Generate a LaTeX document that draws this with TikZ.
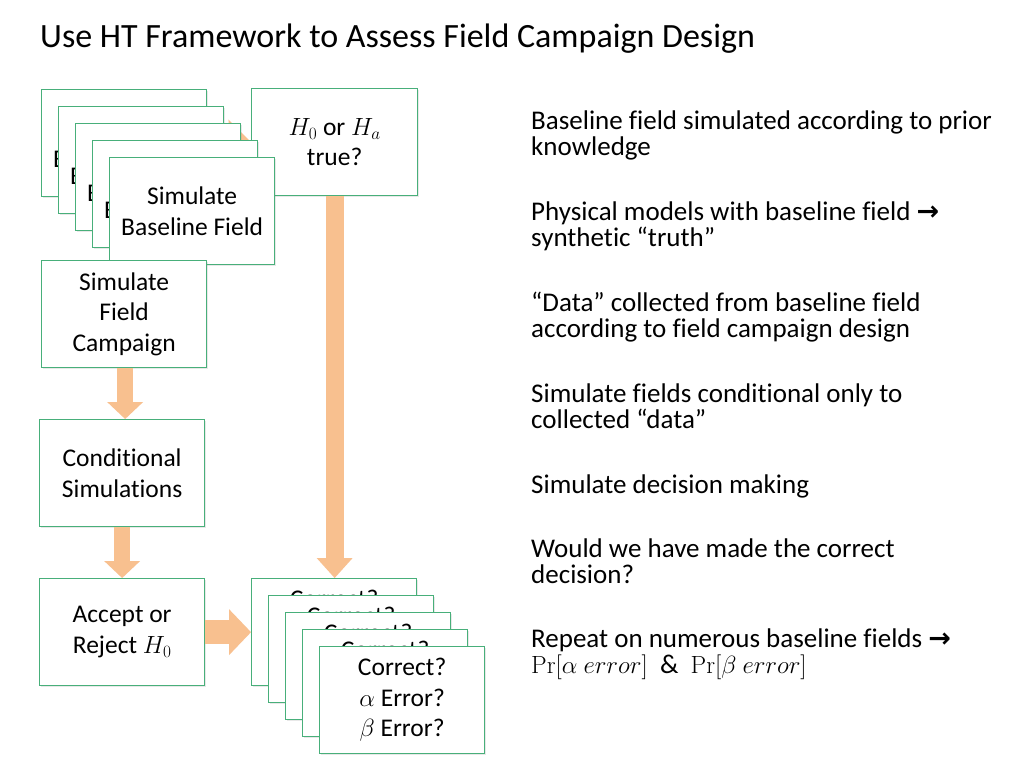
\documentclass[tikz,border=0pt]{standalone}
\usepackage[no-math]{fontspec}
\setmainfont{Carlito}[Ligatures=CommonOff]
\newfontfamily\arrowfont{DejaVu Sans}
\usetikzlibrary{arrows.meta,shadows}
\definecolor{boxgreen}{RGB}{72,175,122}
\definecolor{arrorange}{RGB}{248,192,143}
\begin{document}
\begin{tikzpicture}[x=1pt,y=-1pt,
  box/.style={draw=boxgreen, line width=1.3pt, fill=white, minimum width=165pt,
    minimum height=107pt, anchor=north west, align=center, inner sep=0pt,
    font=\fontsize{25.5}{30.5}\selectfont,
    drop shadow={opacity=0.18, shadow xshift=1.2pt, shadow yshift=-1.5pt}},
  rtext/.style={anchor=base west, align=left, inner sep=0pt,
    font=\fontsize{27}{26}\selectfont},
  fatdown/.style={draw=arrorange, line width=16pt,
    -{Triangle[width=36pt,length=17pt,line width=0pt,fill=arrorange]}},
  fatlong/.style={draw=arrorange, line width=18pt,
    -{Triangle[width=36pt,length=20pt,line width=0pt,fill=arrorange]}},
  fatright/.style={draw=arrorange, line width=24pt,
    -{Triangle[width=46pt,length=22pt,line width=0pt,fill=arrorange]}},
  ]
\useasboundingbox (0,0) rectangle (1024,768);
\fill[white] (0,0) rectangle (1024,768);

\node[anchor=base west, inner sep=0pt, font=\fontsize{34}{40}\selectfont] (title) at (40,48)
  {Use HT Framework to Assess Field Campaign Design};

% baseline stack
\node[box] (b1) at (41,89) {Simulate\\Baseline Field};
\node[box, minimum width=166pt] (h0) at (251,88) {$H_0$ or $H_a$\\true?};
\draw[fatright] (b1.east) -- (h0.west);
\node[box] (b2) at (58,106) {Simulate\\Baseline Field};
\node[box] (b3) at (75,123) {Simulate\\Baseline Field};
\node[box] (b4) at (92,140) {Simulate\\Baseline Field};
\node[box] (b5) at (109,157) {Simulate\\Baseline Field};

% left column
\node[box] (fc) at (41,260) {Simulate\\Field\\Campaign};
\node[box] (cs) at (39,419) {Conditional\\Simulations};
\node[box] (acc) at (39,578) {Accept or\\Reject $H_0$};

% correct stack
\node[box] (c1) at (251,578) {Correct?\\$\alpha$ Error?\\$\beta$ Error?};
\node[box] (c2) at (268,595) {Correct?\\$\alpha$ Error?\\$\beta$ Error?};
\node[box] (c3) at (285,612) {Correct?\\$\alpha$ Error?\\$\beta$ Error?};
\node[box] (c4) at (302,629) {Correct?\\$\alpha$ Error?\\$\beta$ Error?};
\node[box] (c5) at (319,646) {Correct?\\$\alpha$ Error?\\$\beta$ Error?};

% arrows
\draw[fatdown] ([xshift=1pt]fc.south) -- ([xshift=1pt]fc.south |- cs.north);
\draw[fatdown] (cs.south) -- (acc.north);
\draw[fatlong] (h0.south) -- (h0.south |- c1.north);
\draw[fatright] (acc.east) -- (acc.east -| c1.west);

% right text
\node[rtext] (t1) at (531,155) {Baseline field simulated according to prior\\knowledge};
\node[rtext] (t2) at (531,246) {Physical models with baseline field {\arrowfont\bfseries →}\\synthetic “truth”};
\node[rtext] (t3) at (531,337) {“Data” collected from baseline field\\according to field campaign design};
\node[rtext] (t4) at (531,428) {Simulate fields conditional only to\\collected “data”};
\node[rtext] (t5) at (531,493) {Simulate decision making};
\node[rtext] (t6) at (531,583) {Would we have made the correct\\decision?};
\node[rtext] (t7) at (531,673) {Repeat on numerous baseline fields {\arrowfont\bfseries →}\\$\Pr[\alpha\ error]$\ \ \&\ \ $\Pr[\beta\ error]$};
\end{tikzpicture}
\end{document}
